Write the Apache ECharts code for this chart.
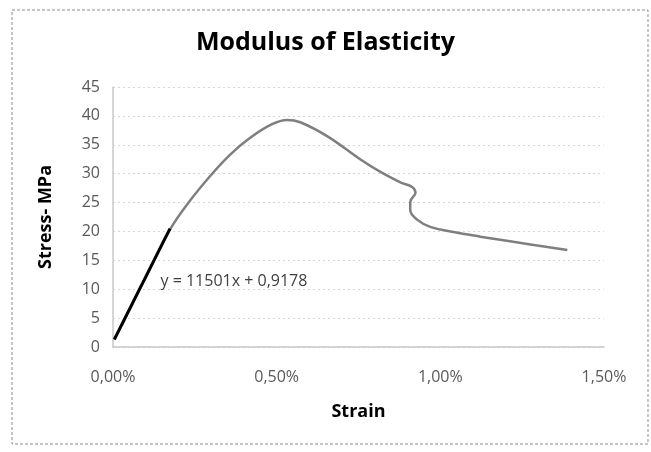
<!DOCTYPE html>
<html>
<head>
<meta charset="utf-8">
<script src="https://cdn.jsdelivr.net/npm/echarts@6/dist/echarts.min.js"></script>
<style>
  html, body { margin: 0; padding: 0; background: #fff; }
  #chart { width: 651px; height: 452px; }
</style>
</head>
<body>
<div id="chart"></div>
<script>
// strain in %, stress in MPa
var strainPct = [0.004, 0.05, 0.1, 0.174, 0.235, 0.297, 0.358, 0.419, 0.48, 0.532, 0.572, 0.654, 0.755, 0.817, 0.878, 0.914, 0.924, 0.908, 0.908, 0.93, 0.969, 1.04, 1.122, 1.223, 1.327, 1.388];
var stressMPa = [1.3, 6.5, 12.1, 20.3, 25.3, 29.6, 33.3, 36.2, 38.4, 39.3, 38.9, 36.5, 32.5, 30.3, 28.5, 27.7, 26.7, 25.1, 23.7, 22.0, 20.8, 19.9, 19.1, 18.2, 17.3, 16.8];
// linear trendline (elastic part)
var trendStrain = [0.004, 0.174];
var trendStress = [1.3, 20.5];
var trendLabel = 'y = 11501x + 0,9178';

var curve = [];
for (var i = 0; i < strainPct.length; i++) curve.push([strainPct[i], stressMPa[i]]);
var trend = [];
for (var j = 0; j < trendStrain.length; j++) trend.push([trendStrain[j], trendStress[j]]);

var font = '"Open Sans", "Liberation Sans", sans-serif';
var chart = echarts.init(document.getElementById('chart'));
chart.setOption({
  animation: false,
  textStyle: { fontFamily: font },
  graphic: [
    { type: 'rect', shape: { x: 12, y: 10, width: 636, height: 434 },
      style: { fill: 'none', stroke: '#8c8c8c', lineWidth: 1, lineDash: [3, 2] } },
    { type: 'text', left: 'center', top: 30,
      style: { text: 'Modulus of Elasticity', font: 'bold 25px ' + font, fill: '#000' } }
  ],
  grid: { left: 113, right: 47, top: 87, bottom: 105 },
  xAxis: {
    type: 'value', min: 0, max: 1.5, interval: 0.5,
    name: 'Strain', nameLocation: 'middle', nameGap: 56,
    nameTextStyle: { fontWeight: 'bold', fontSize: 18, color: '#000', fontFamily: font },
    axisLine: { show: true, lineStyle: { color: '#c8c8c8', width: 1.5 } },
    axisTick: { show: false },
    splitLine: { show: false },
    axisLabel: { color: '#595959', fontSize: 16, margin: 22,
      formatter: function (v) { return v.toFixed(2).replace('.', ',') + '%'; } }
  },
  yAxis: {
    type: 'value', min: 0, max: 45, interval: 5,
    name: 'Stress- MPa', nameLocation: 'middle', nameGap: 58, nameRotate: 90,
    nameTextStyle: { fontWeight: 'bold', fontSize: 18, color: '#000', fontFamily: font },
    axisLine: { show: true, lineStyle: { color: '#c8c8c8', width: 1.5 } },
    axisTick: { show: false },
    splitLine: { show: true, lineStyle: { color: '#d6d6d6', type: [2, 3], width: 1 } },
    axisLabel: { color: '#595959', fontSize: 16, margin: 13 }
  },
  series: [
    {
      type: 'line', data: curve, smooth: 0.4, showSymbol: false,
      lineStyle: { color: '#7f7f7f', width: 2.5 }
    },
    {
      type: 'line', data: trend, showSymbol: false,
      lineStyle: { color: '#000', width: 3 },
      markPoint: {
        symbol: 'circle', symbolSize: 0,
        data: [{ coord: [0.145, 11.3] }],
        label: { show: true, position: 'right', distance: 0, formatter: trendLabel,
          color: '#404040', fontSize: 16, fontFamily: font }
      }
    }
  ]
});
</script>
</body>
</html>
